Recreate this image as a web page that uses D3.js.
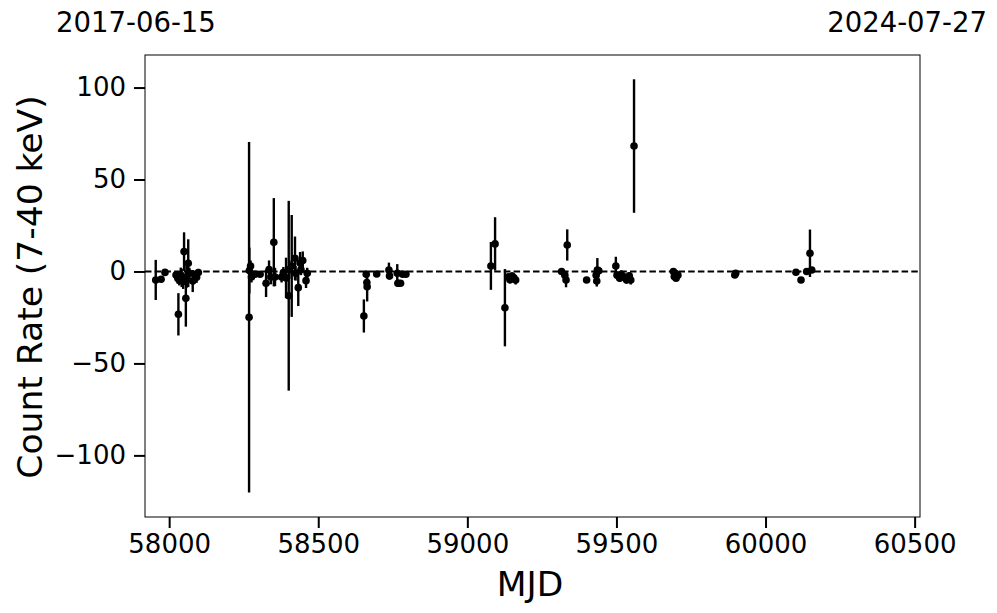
<!DOCTYPE html>
<html><head><meta charset="utf-8">
<script src="https://cdn.jsdelivr.net/npm/d3@7"></script>
<style>body{margin:0;background:#fff;} text{font-family:"DejaVu Sans",sans-serif;}</style>
</head><body>
<svg id="c" width="997" height="613"></svg>
<script>
const mjd = [57955,57973,57986,58023,58029,58031,58034,58039,58042,58047,58050,58056,58058,58064,58068,58079,58087,58092,58098,
58268,58269,58273,58276,58288,58305,58325,58335,58341,58351,58355,58377,58383,58392,58401,58403,58411,58422,58424,58433,58439,58442,58448,58459,58463,
58653,58661,58663,58664,58696,58737,58739,58765,58767,58776,58783,58794,
59079,59093,59126,59137,59143,59150,59156,59162,
59316,59327,59331,59335,59400,59432,59434,59436,59441,59498,59502,59511,59516,59523,59534,59543,59548,59559,
59691,59694,59697,59700,59706,59897,59900,60102,60119,60138,60149,60155];
const rate = [-4.6,-4.2,-0.5,-1.9,-3.7,-23.3,-4.6,-1.9,-3.5,-5.5,10.8,-14.6,-3,4.5,-1,-5.2,-1.9,-3.2,-0.6,
-24.9,0.5,3,-3,-1.5,-1.5,-6.4,1,-3,15.9,-3,-3,-0.6,-3.5,-13.2,1,3,7.2,-1,-8.8,4.6,1,5.9,-5,-1,
-24.2,-1.5,-6,-8.3,-1.4,0.8,-2.4,-1,-6.4,-6.4,-1.5,-1.5,
3,15,-19.7,-3,-4.5,-2.5,-3.5,-4.6,
0,-2,-4.6,14.4,-4.6,-2,-5.2,0.8,0.4,3,-2,-3.7,-1.5,-2.8,-4.6,-2.4,-4.6,68.2,
0,-2.8,-1,-3.7,-2,-1.9,-1,-0.4,-4.6,0,9.9,0.8];
const err = [10.9,1.5,1,2,3,11.5,3,4,5,4,10.5,15.4,6,13,3,6,2,3,2,
95.3,12.5,3,3,1.5,1.5,7.5,5,4,24,5,3,3,11,51.6,5,27.7,11.8,4,10,6,3,5,4,3,
9,2,3,8,1.5,4,2,5,2,1.5,1,1,
13,14.5,21,2,2,2,2,2.5,
1.5,2,4,8.5,1.5,2,3,6.5,2,5,2,2,2,2,2,2,2.5,36.3,
1.5,1.5,1.5,1.5,1.5,1,1,1,1.5,1,12.9,1];
const xTicks = [58000,58500,59000,59500,60000,60500];
const yTicks = [-100,-50,0,50,100];
const topLeftLabel = "2017-06-15", topRightLabel = "2024-07-27";

const svg = d3.select("#c");
svg.append("rect").attr("width",997).attr("height",613).attr("fill","#fff");
const L=145,R=920,T=55,B=517;
const x = d3.scaleLinear().domain([57919,60518]).range([L,R]);
const y = d3.scaleLinear().domain([-133.5,117.7]).range([B,T]);

const data = mjd.map((m,i)=>({m, v:rate[i], e:err[i]}));

svg.append("line").attr("x1",L).attr("x2",R).attr("y1",y(0)).attr("y2",y(0))
  .attr("stroke","#000").attr("stroke-width",1.9).attr("stroke-dasharray","6.5,3.2");

const g = svg.append("g");
g.selectAll("line.eb").data(data).join("line").attr("class","eb")
  .attr("x1",d=>x(d.m)).attr("x2",d=>x(d.m))
  .attr("y1",d=>y(d.v+d.e)).attr("y2",d=>y(d.v-d.e))
  .attr("stroke","#000").attr("stroke-width",2.4);
g.selectAll("circle").data(data).join("circle")
  .attr("cx",d=>x(d.m)).attr("cy",d=>y(d.v)).attr("r",3.8).attr("fill","#000");

svg.append("rect").attr("x",L).attr("y",T).attr("width",R-L).attr("height",B-T)
  .attr("fill","none").attr("stroke","#000").attr("stroke-width",1);

const xa = svg.append("g").attr("transform",`translate(0,${B})`)
  .call(d3.axisBottom(x).tickValues(xTicks).tickSize(11).tickPadding(7).tickFormat(d3.format("d")));
const ya = svg.append("g").attr("transform",`translate(${L},0)`)
  .call(d3.axisLeft(y).tickValues(yTicks).tickSize(11).tickPadding(8).tickFormat(d3.format("d")));
[xa,ya].forEach(a=>{
  a.select(".domain").remove();
  a.selectAll(".tick line").attr("stroke","#000").attr("stroke-width",2);
  a.selectAll(".tick text").attr("fill","#000").style("font-size","26px").style("font-family","DejaVu Sans");
});

svg.append("text").attr("x",530).attr("y",596).attr("text-anchor","middle")
  .style("font-size","34.5px").text("MJD");
svg.append("text").attr("transform","translate(42,287) rotate(-90)").attr("text-anchor","middle")
  .style("font-size","34.5px").text("Count Rate (7-40 keV)");
svg.append("text").attr("x",56).attr("y",32).style("font-size","27.5px").text(topLeftLabel);
svg.append("text").attr("x",987).attr("y",32).attr("text-anchor","end").style("font-size","27.5px").text(topRightLabel);
</script>
</body></html>
